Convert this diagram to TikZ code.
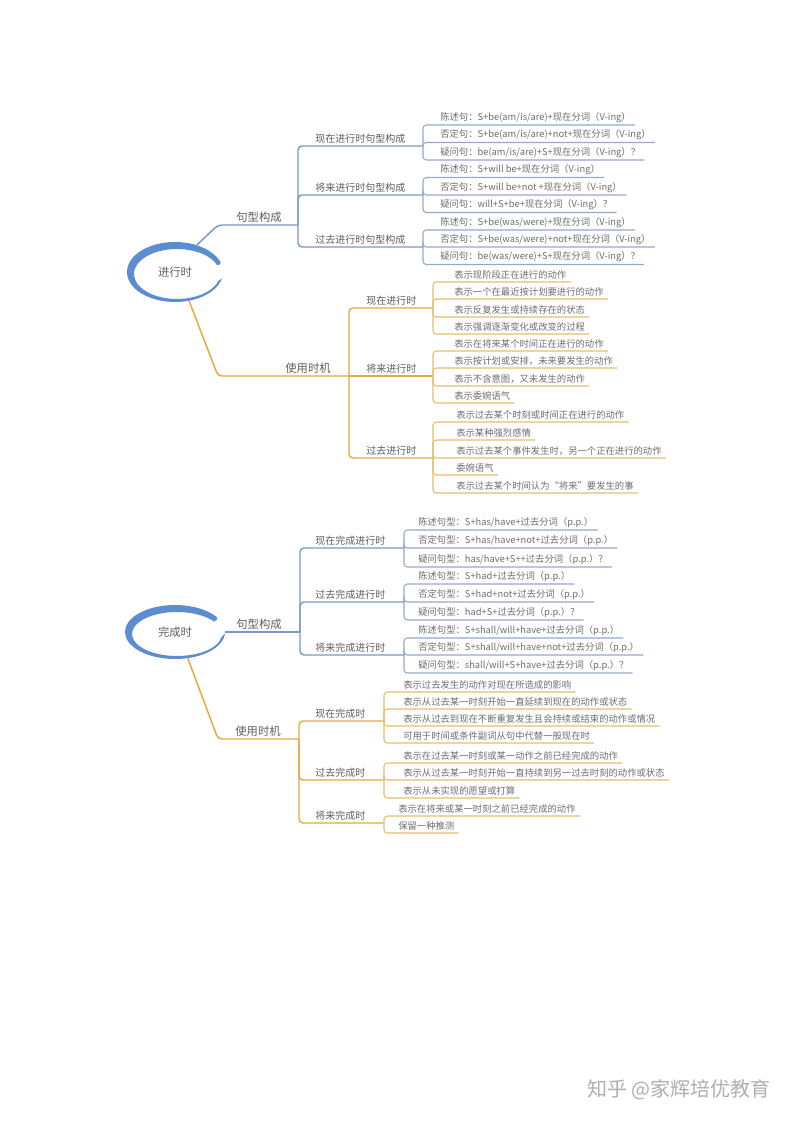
\documentclass[tikz,border=0pt]{standalone}
\usepackage{fontspec}
\setmainfont{Noto Sans CJK SC}
\usetikzlibrary{
  calc,
  positioning,
  shapes.geometric
}
\definecolor{branchblue}{RGB}{122,152,198}
\definecolor{leafblue}{RGB}{150,168,200}
\definecolor{ringblue}{RGB}{92,140,210}
\definecolor{branchorange}{RGB}{228,170,62}
\definecolor{leaforange}{RGB}{232,190,110}
\definecolor{textgray}{RGB}{95,95,95}
\definecolor{leafgray}{RGB}{110,110,110}
\definecolor{markgray}{RGB}{175,175,175}
\tikzset{
  hub/.style={
    ellipse,
    inner sep=0pt,
    minimum width=72pt,
    minimum height=45pt,
    font=\fontsize{8.5}{10}\selectfont,
    text=textgray
  },
  toplabel/.style={
    anchor=south,
    inner sep=2pt,
    font=\fontsize{8.5}{10}\selectfont,
    text=textgray
  },
  branchlabel/.style={
    anchor=south west,
    inner xsep=3pt,
    inner ysep=2pt,
    font=\fontsize{7.5}{9}\selectfont,
    text=textgray
  },
  leaf/.style={
    anchor=south west,
    inner xsep=3pt,
    inner ysep=1.5pt,
    font=\fontsize{7}{8}\selectfont,
    text=leafgray
  },
  bluemain/.style={
    draw=branchblue,
    line width=1.1pt,
    rounded corners=3pt
  },
  blueleaf/.style={
    draw=leafblue,
    line width=0.8pt,
    rounded corners=2.5pt
  },
  orangemain/.style={
    draw=branchorange,
    line width=1.1pt,
    rounded corners=3pt
  },
  orangeleaf/.style={
    draw=leaforange,
    line width=0.8pt,
    rounded corners=2.5pt
  },
  watermark/.style={
    font=\fontsize{15}{18}\selectfont,
    text=markgray
  }
}

\begin{document}
\begin{tikzpicture}[x=0.75pt, y=-0.75pt]

\fill[white] (0,0) rectangle (794,1123);
\useasboundingbox (0,0) rectangle (794,1123);

% Continuous tenses hub.
\node[hub] (jxs) at (175,272) {进行时};
\fill[ringblue] ($(jxs.center)+(-22:48 and 30)$)
  arc[start angle=-22, end angle=-348, x radius=48, y radius=30]
  -- ($(jxs.center)+(2,2)+(-343:43 and 25)$)
  arc[start angle=-343, end angle=-22, x radius=43, y radius=25]
  -- cycle;
\fill[ringblue] ($(jxs.center)+(43.2,-9.3)$) circle[radius=1.8pt];

% Sentence patterns of the continuous tenses.
\coordinate (jqbend) at (218,225);
\coordinate (jq) at (298,225);
\node[toplabel] (jql) at (259,225) {句型构成};
\draw[bluemain] (jxs.51) -- (jqbend) -- (jq);

\coordinate (jqA) at (423,146);
\node[branchlabel] (jqAl) at (311,146) {现在进行时句型构成};
\draw[bluemain] (jq) |- (jqA);
\node[leaf] (jqA1) at (436,125) {陈述句：S+be(am/is/are)+现在分词（V-ing）};
\node[leaf] (jqA2) at (436,142.5) {否定句：S+be(am/is/are)+not+现在分词（V-ing）};
\node[leaf] (jqA3) at (436,160) {疑问句：be(am/is/are)+S+现在分词（V-ing）？};
\draw[blueleaf] (jqA) |- (jqA1.south west) -- (jqA1.south east);
\draw[blueleaf] (jqA) |- (jqA2.south west) -- (jqA2.south east);
\draw[blueleaf] (jqA) |- (jqA3.south west) -- (jqA3.south east);

\coordinate (jqB) at (423,195);
\node[branchlabel] (jqBl) at (311,195) {将来进行时句型构成};
\draw[bluemain] (jq) |- (jqB);
\node[leaf] (jqB1) at (436,177.5) {陈述句：S+will be+现在分词（V-ing）};
\node[leaf] (jqB2) at (436,195) {否定句：S+will be+not +现在分词（V-ing）};
\node[leaf] (jqB3) at (436,212.5) {疑问句：will+S+be+现在分词（V-ing）？};
\draw[blueleaf] (jqB) |- (jqB1.south west) -- (jqB1.south east);
\draw[blueleaf] (jqB) |- (jqB2.south west) -- (jqB2.south east);
\draw[blueleaf] (jqB) |- (jqB3.south west) -- (jqB3.south east);

\coordinate (jqC) at (423,247);
\node[branchlabel] (jqCl) at (311,247) {过去进行时句型构成};
\draw[bluemain] (jq) |- (jqC);
\node[leaf] (jqC1) at (436,230) {陈述句：S+be(was/were)+现在分词（V-ing）};
\node[leaf] (jqC2) at (436,247) {否定句：S+be(was/were)+not+现在分词（V-ing）};
\node[leaf] (jqC3) at (436,264.5) {疑问句：be(was/were)+S+现在分词（V-ing）？};
\draw[blueleaf] (jqC) |- (jqC1.south west) -- (jqC1.south east);
\draw[blueleaf] (jqC) |- (jqC2.south west) -- (jqC2.south east);
\draw[blueleaf] (jqC) |- (jqC3.south west) -- (jqC3.south east);

% Uses of the continuous tenses.
\coordinate (jsbend) at (218,376);
\coordinate (js) at (349,376);
\node[toplabel] (jsl) at (308,376) {使用时机};
\draw[orangemain] (jxs.-64) -- (jsbend) -- (js);

\coordinate (jsA) at (433,308);
\node[branchlabel] (jsAl) at (362,308) {现在进行时};
\draw[orangemain] (js) |- (jsA);
\node[leaf] (jsA1) at (450,282) {表示现阶段正在进行的动作};
\node[leaf] (jsA2) at (450,299) {表示一个在最近按计划要进行的动作};
\node[leaf] (jsA3) at (450,317) {表示反复发生或持续存在的状态};
\node[leaf] (jsA4) at (450,334) {表示强调逐渐变化或改变的过程};
\draw[orangeleaf] (jsA) |- (jsA1.south west) -- (jsA1.south east);
\draw[orangeleaf] (jsA) |- (jsA2.south west) -- (jsA2.south east);
\draw[orangeleaf] (jsA) |- (jsA3.south west) -- (jsA3.south east);
\draw[orangeleaf] (jsA) |- (jsA4.south west) -- (jsA4.south east);

\coordinate (jsB) at (433,376);
\node[branchlabel] (jsBl) at (362,376) {将来进行时};
\draw[orangemain] (js) -- (jsB);
\node[leaf] (jsB1) at (450,351) {表示在将来某个时间正在进行的动作};
\node[leaf] (jsB2) at (450,368) {表示按计划或安排，未来要发生的动作};
\node[leaf] (jsB3) at (450,386) {表示不含意图，又未发生的动作};
\node[leaf] (jsB4) at (450,403) {表示委婉语气};
\draw[orangeleaf] (jsB) |- (jsB1.south west) -- (jsB1.south east);
\draw[orangeleaf] (jsB) |- (jsB2.south west) -- (jsB2.south east);
\draw[orangeleaf] (jsB) |- (jsB3.south west) -- (jsB3.south east);
\draw[orangeleaf] (jsB) |- (jsB4.south west) -- (jsB4.south east);

\coordinate (jsC) at (433,458);
\node[branchlabel] (jsCl) at (362,458) {过去进行时};
\draw[orangemain] (js) |- (jsC);
\node[leaf] (jsC1) at (452,422) {表示过去某个时刻或时间正在进行的动作};
\node[leaf] (jsC2) at (452,440) {表示某种强烈感情};
\node[leaf] (jsC3) at (452,458) {表示过去某个事件发生时，另一个正在进行的动作};
\node[leaf] (jsC4) at (452,475) {委婉语气};
\node[leaf] (jsC5) at (452,493) {表示过去某个时间认为“将来”要发生的事};
\draw[orangeleaf] (jsC) |- (jsC1.south west) -- (jsC1.south east);
\draw[orangeleaf] (jsC) |- (jsC2.south west) -- (jsC2.south east);
\draw[orangeleaf] (jsC) |- (jsC3.south west) -- (jsC3.south east);
\draw[orangeleaf] (jsC) |- (jsC4.south west) -- (jsC4.south east);
\draw[orangeleaf] (jsC) |- (jsC5.south west) -- (jsC5.south east);

% Perfect tenses hub.
\node[hub, minimum width=75pt, minimum height=40.5pt] (wcs) at (175,632) {完成时};
\fill[ringblue] ($(wcs.center)+(-34:50 and 27)$)
  arc[start angle=-34, end angle=-357, x radius=50, y radius=27]
  -- ($(wcs.center)+(2,2)+(-352:45 and 22)$)
  arc[start angle=-352, end angle=-34, x radius=45, y radius=22]
  -- cycle;
\fill[ringblue] ($(wcs.center)+(39.8,-13.6)$) circle[radius=1.8pt];

% Sentence patterns of the perfect continuous tenses.
\coordinate (wq) at (300,632);
\node[toplabel] (wql) at (259,632) {句型构成};
\draw[bluemain] (wcs.east) -- (wq);

\coordinate (wqA) at (404,548);
\node[branchlabel] (wqAl) at (311,548) {现在完成进行时};
\draw[bluemain] (wq) |- (wqA);
\node[leaf] (wqA1) at (414,530) {陈述句型：S+has/have+过去分词（p.p.）};
\node[leaf] (wqA2) at (414,548) {否定句型：S+has/have+not+过去分词（p.p.）};
\node[leaf] (wqA3) at (414,567) {疑问句型：has/have+S++过去分词（p.p.）？};
\draw[blueleaf] (wqA) |- (wqA1.south west) -- (wqA1.south east);
\draw[blueleaf] (wqA) |- (wqA2.south west) -- (wqA2.south east);
\draw[blueleaf] (wqA) |- (wqA3.south west) -- (wqA3.south east);

\coordinate (wqB) at (404,602);
\node[branchlabel] (wqBl) at (311,602) {过去完成进行时};
\draw[bluemain] (wq) |- (wqB);
\node[leaf] (wqB1) at (414,584) {陈述句型：S+had+过去分词（p.p.）};
\node[leaf] (wqB2) at (414,602) {否定句型：S+had+not+过去分词（p.p.）};
\node[leaf] (wqB3) at (414,620) {疑问句型：had+S+过去分词（p.p.）？};
\draw[blueleaf] (wqB) |- (wqB1.south west) -- (wqB1.south east);
\draw[blueleaf] (wqB) |- (wqB2.south west) -- (wqB2.south east);
\draw[blueleaf] (wqB) |- (wqB3.south west) -- (wqB3.south east);

\coordinate (wqC) at (404,655);
\node[branchlabel] (wqCl) at (311,655) {将来完成进行时};
\draw[bluemain] (wq) |- (wqC);
\node[leaf] (wqC1) at (414,638) {陈述句型：S+shall/will+have+过去分词（p.p.）};
\node[leaf] (wqC2) at (414,655) {否定句型：S+shall/will+have+not+过去分词（p.p.）};
\node[leaf] (wqC3) at (414,673) {疑问句型：shall/will+S+have+过去分词（p.p.）？};
\draw[blueleaf] (wqC) |- (wqC1.south west) -- (wqC1.south east);
\draw[blueleaf] (wqC) |- (wqC2.south west) -- (wqC2.south east);
\draw[blueleaf] (wqC) |- (wqC3.south west) -- (wqC3.south east);

% Uses of the perfect tenses.
\coordinate (wsbend) at (218,739);
\coordinate (ws) at (299,739);
\node[toplabel] (wsl) at (258,739) {使用时机};
\draw[orangemain] (wcs.-64) -- (wsbend) -- (ws);

\coordinate (wsA) at (384,721);
\node[branchlabel] (wsAl) at (311,721) {现在完成时};
\draw[orangemain] (ws) |- (wsA);
\node[leaf] (wsA1) at (399,692) {表示过去发生的动作对现在所造成的影响};
\node[leaf] (wsA2) at (399,709) {表示从过去某一时刻开始一直延续到现在的动作或状态};
\node[leaf] (wsA3) at (399,726) {表示从过去到现在不断重复发生且会持续或结束的动作或情况};
\node[leaf] (wsA4) at (399,743) {可用于时间或条件副词从句中代替一般现在时};
\draw[orangeleaf] (wsA) |- (wsA1.south west) -- (wsA1.south east);
\draw[orangeleaf] (wsA) |- (wsA2.south west) -- (wsA2.south east);
\draw[orangeleaf] (wsA) |- (wsA3.south west) -- (wsA3.south east);
\draw[orangeleaf] (wsA) |- (wsA4.south west) -- (wsA4.south east);

\coordinate (wsB) at (384,780);
\node[branchlabel] (wsBl) at (311,780) {过去完成时};
\draw[orangemain] (ws) |- (wsB);
\node[leaf] (wsB1) at (399,763) {表示在过去某一时刻或某一动作之前已经完成的动作};
\node[leaf] (wsB2) at (399,780) {表示从过去某一时刻开始一直持续到另一过去时刻的动作或状态};
\node[leaf] (wsB3) at (399,798) {表示从未实现的愿望或打算};
\draw[orangeleaf] (wsB) |- (wsB1.south west) -- (wsB1.south east);
\draw[orangeleaf] (wsB) |- (wsB2.south west) -- (wsB2.south east);
\draw[orangeleaf] (wsB) |- (wsB3.south west) -- (wsB3.south east);

\coordinate (wsC) at (384,823);
\node[branchlabel] (wsCl) at (311,823) {将来完成时};
\draw[orangemain] (ws) |- (wsC);
\node[leaf] (wsC1) at (394,816) {表示在将来或某一时刻之前已经完成的动作};
\node[leaf] (wsC2) at (394,833) {保留一种推测};
\draw[orangeleaf] (wsC) |- (wsC1.south west) -- (wsC1.south east);
\draw[orangeleaf] (wsC) |- (wsC2.south west) -- (wsC2.south east);

% Watermark.
\node[watermark] (zhihu) at (679,1090) {知乎 @家辉培优教育};

\end{tikzpicture}
\end{document}
